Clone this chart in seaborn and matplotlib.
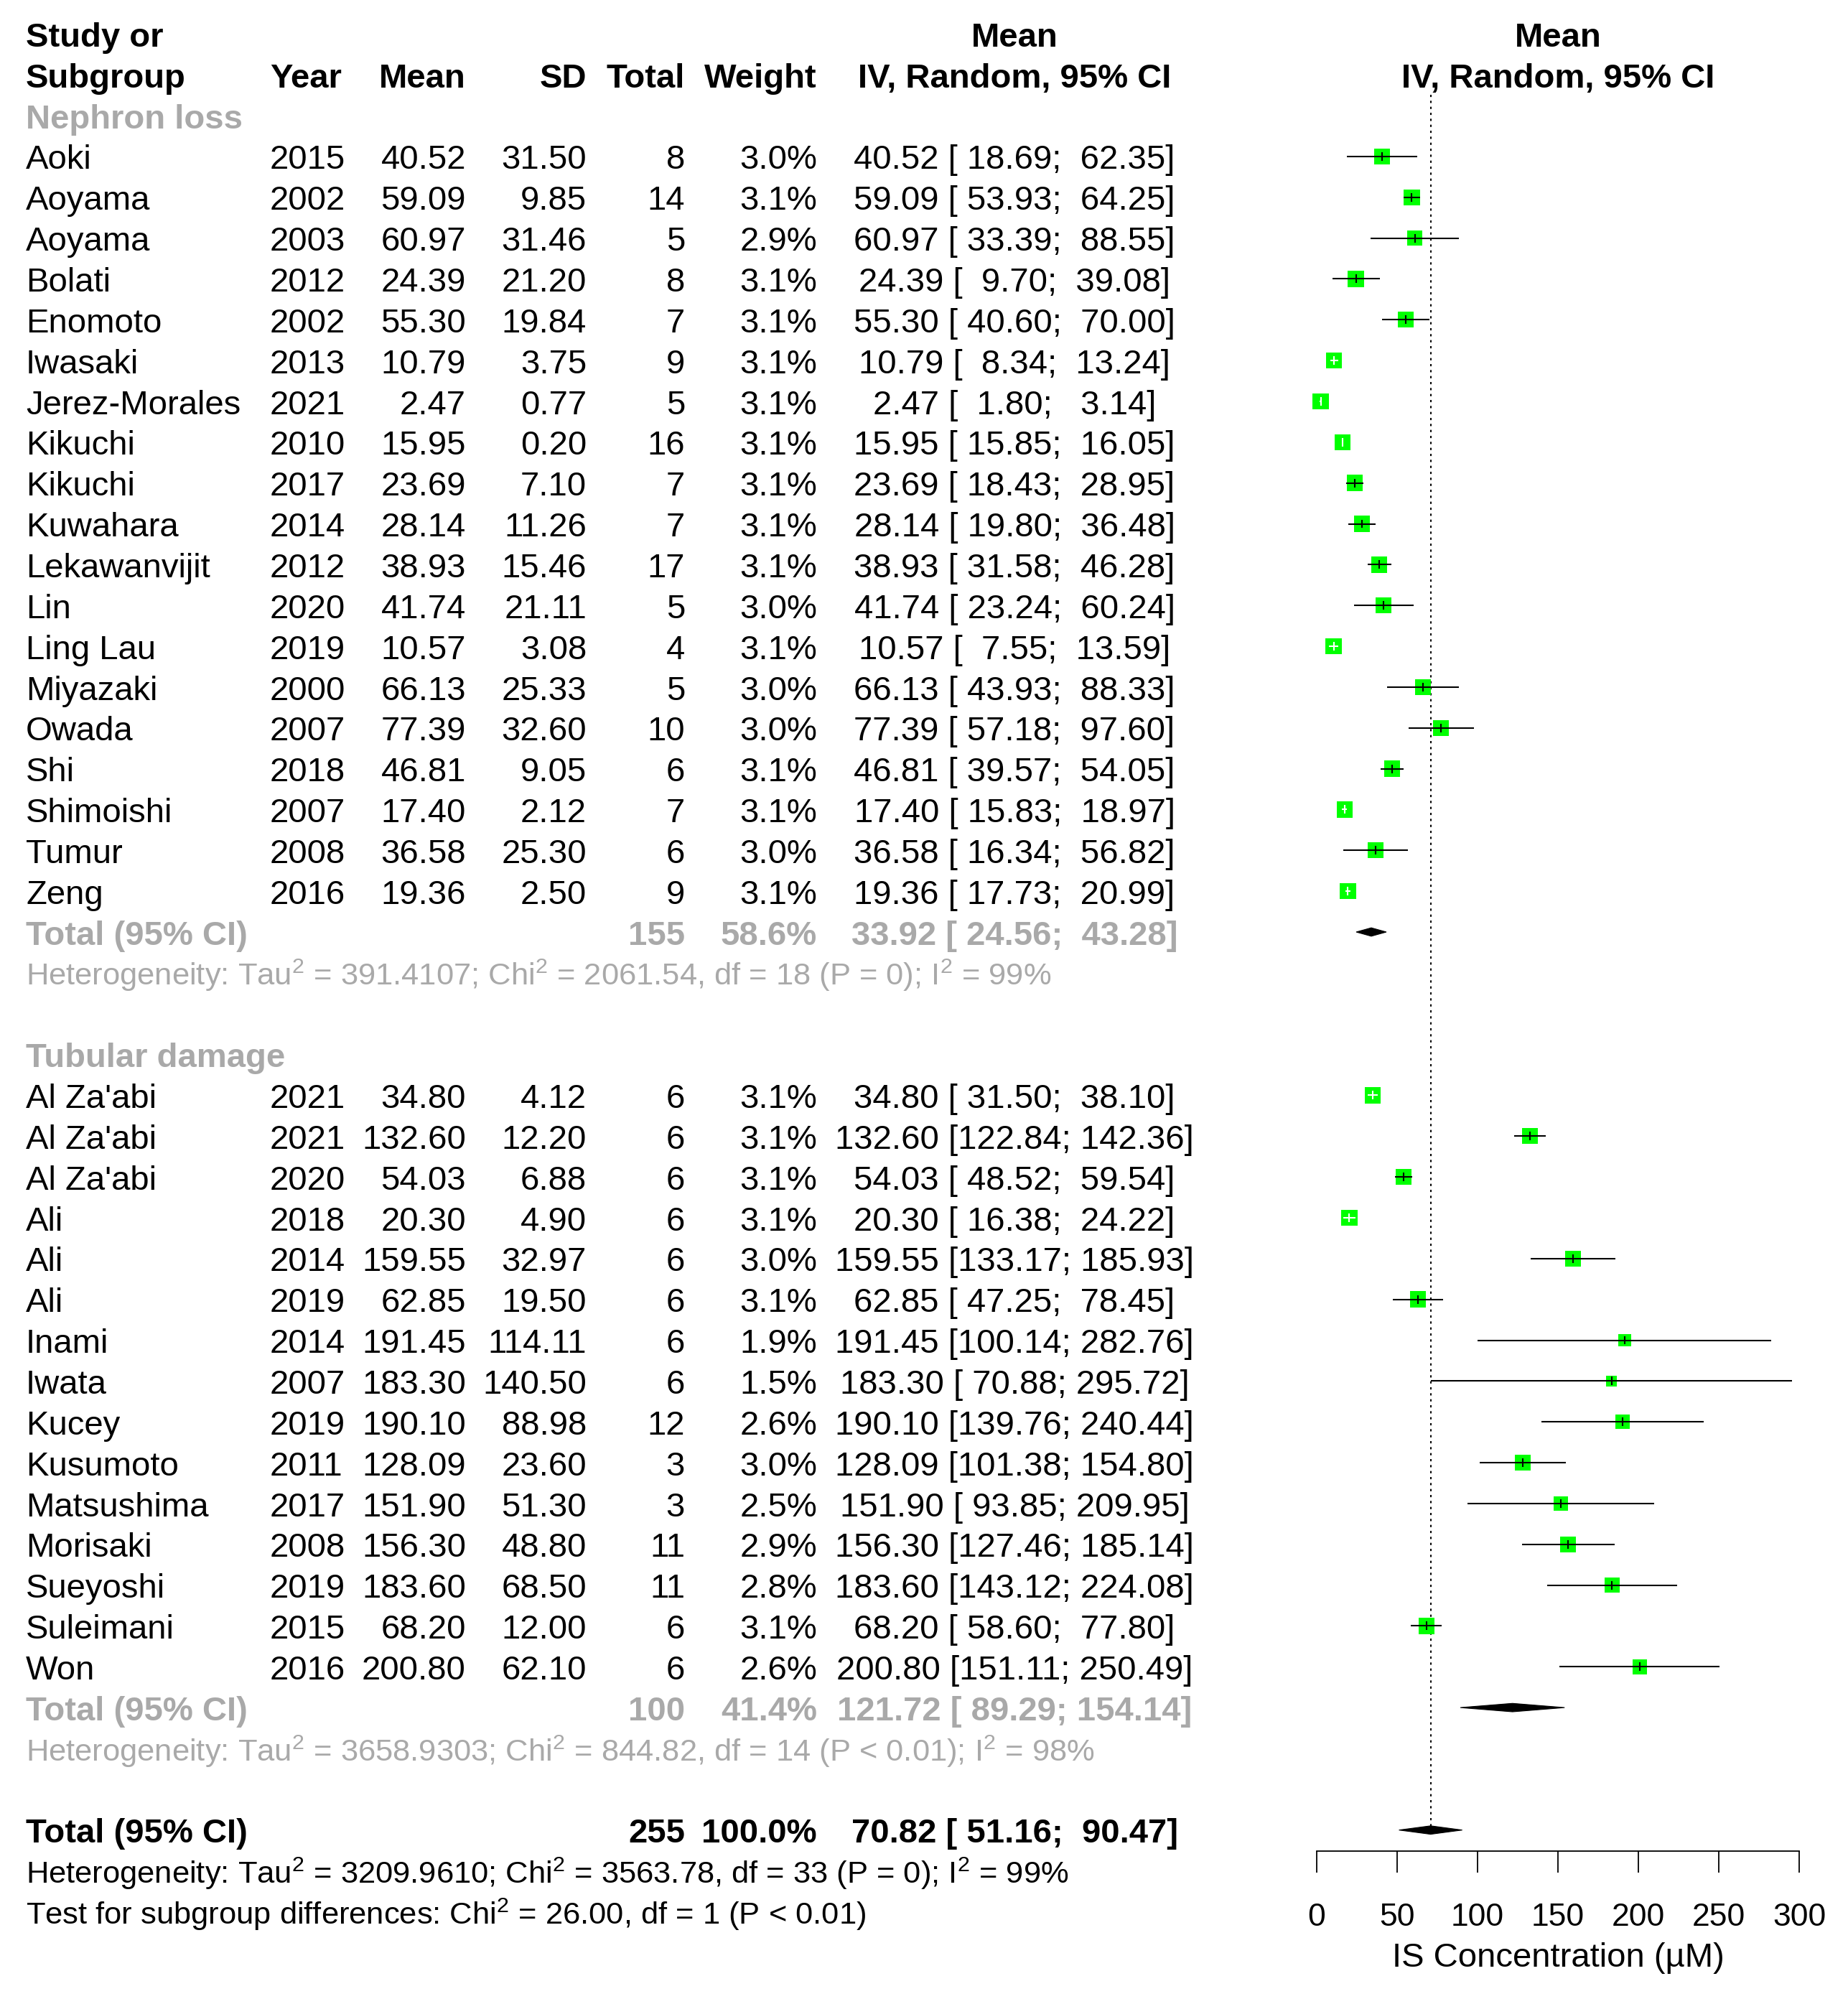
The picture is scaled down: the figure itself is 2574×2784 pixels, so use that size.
import numpy as np
import pandas as pd
import seaborn as sns
import matplotlib.pyplot as plt

# ---- data: Nephron loss subgroup ----
neph_study = ["Aoki", "Aoyama", "Aoyama", "Bolati", "Enomoto", "Iwasaki", "Jerez-Morales",
              "Kikuchi", "Kikuchi", "Kuwahara", "Lekawanvijit", "Lin", "Ling Lau", "Miyazaki",
              "Owada", "Shi", "Shimoishi", "Tumur", "Zeng"]
neph_year = [2015, 2002, 2003, 2012, 2002, 2013, 2021, 2010, 2017, 2014, 2012, 2020, 2019,
             2000, 2007, 2018, 2007, 2008, 2016]
neph_mean = [40.52, 59.09, 60.97, 24.39, 55.30, 10.79, 2.47, 15.95, 23.69, 28.14, 38.93,
             41.74, 10.57, 66.13, 77.39, 46.81, 17.40, 36.58, 19.36]
neph_sd = [31.50, 9.85, 31.46, 21.20, 19.84, 3.75, 0.77, 0.20, 7.10, 11.26, 15.46, 21.11,
           3.08, 25.33, 32.60, 9.05, 2.12, 25.30, 2.50]
neph_n = [8, 14, 5, 8, 7, 9, 5, 16, 7, 7, 17, 5, 4, 5, 10, 6, 7, 6, 9]
neph_weight = [3.0, 3.1, 2.9, 3.1, 3.1, 3.1, 3.1, 3.1, 3.1, 3.1, 3.1, 3.0, 3.1, 3.0, 3.0,
               3.1, 3.1, 3.0, 3.1]
neph_lo = [18.69, 53.93, 33.39, 9.70, 40.60, 8.34, 1.80, 15.85, 18.43, 19.80, 31.58, 23.24,
           7.55, 43.93, 57.18, 39.57, 15.83, 16.34, 17.73]
neph_hi = [62.35, 64.25, 88.55, 39.08, 70.00, 13.24, 3.14, 16.05, 28.95, 36.48, 46.28, 60.24,
           13.59, 88.33, 97.60, 54.05, 18.97, 56.82, 20.99]

# ---- data: Tubular damage subgroup ----
tub_study = ["Al Za'abi", "Al Za'abi", "Al Za'abi", "Ali", "Ali", "Ali", "Inami", "Iwata",
             "Kucey", "Kusumoto", "Matsushima", "Morisaki", "Sueyoshi", "Suleimani", "Won"]
tub_year = [2021, 2021, 2020, 2018, 2014, 2019, 2014, 2007, 2019, 2011, 2017, 2008, 2019,
            2015, 2016]
tub_mean = [34.80, 132.60, 54.03, 20.30, 159.55, 62.85, 191.45, 183.30, 190.10, 128.09,
            151.90, 156.30, 183.60, 68.20, 200.80]
tub_sd = [4.12, 12.20, 6.88, 4.90, 32.97, 19.50, 114.11, 140.50, 88.98, 23.60, 51.30, 48.80,
          68.50, 12.00, 62.10]
tub_n = [6, 6, 6, 6, 6, 6, 6, 6, 12, 3, 3, 11, 11, 6, 6]
tub_weight = [3.1, 3.1, 3.1, 3.1, 3.0, 3.1, 1.9, 1.5, 2.6, 3.0, 2.5, 2.9, 2.8, 3.1, 2.6]
tub_lo = [31.50, 122.84, 48.52, 16.38, 133.17, 47.25, 100.14, 70.88, 139.76, 101.38, 93.85,
          127.46, 143.12, 58.60, 151.11]
tub_hi = [38.10, 142.36, 59.54, 24.22, 185.93, 78.45, 282.76, 295.72, 240.44, 154.80, 209.95,
          185.14, 224.08, 77.80, 250.49]

# ---- pooled estimates ----
group_names = ["Nephron loss", "Tubular damage"]
group_total_n = [155, 100]
group_weight = [58.6, 41.4]
group_mean = [33.92, 121.72]
group_lo = [24.56, 89.29]
group_hi = [43.28, 154.14]
group_het = [
    r"Heterogeneity: Tau$^{\mathregular{2}}$ = 391.4107; Chi$^{\mathregular{2}}$ = 2061.54, df = 18 (P = 0); I$^{\mathregular{2}}$ = 99%",
    r"Heterogeneity: Tau$^{\mathregular{2}}$ = 3658.9303; Chi$^{\mathregular{2}}$ = 844.82, df = 14 (P < 0.01); I$^{\mathregular{2}}$ = 98%",
]
overall_n = 255
overall_weight = 100.0
overall_mean = 70.82
overall_lo = 51.16
overall_hi = 90.47
overall_het = r"Heterogeneity: Tau$^{\mathregular{2}}$ = 3209.9610; Chi$^{\mathregular{2}}$ = 3563.78, df = 33 (P = 0); I$^{\mathregular{2}}$ = 99%"
subgroup_test = r"Test for subgroup differences: Chi$^{\mathregular{2}}$ = 26.00, df = 1 (P < 0.01)"

xticks = [0, 50, 100, 150, 200, 250, 300]
xlabel = "IS Concentration (µM)"

# ---- style ----
sns.set_theme(style="white", rc={"text.color": "black", "axes.labelcolor": "black",
                                 "xtick.color": "black", "axes.edgecolor": "black"})
plt.rcParams['font.family'] = ['Liberation Sans', 'DejaVu Sans']
plt.rcParams['mathtext.fontset'] = 'custom'
plt.rcParams['mathtext.rm'] = 'Liberation Sans'

GRAY = "#A9A9A9"
GREEN = "#00FF00"
FS = 34        # main text
FS_HET = 31.3  # heterogeneity lines
W, H, DPI = 2574, 2784, 100
ROW0, ROWH = 47.3, 56.85   # pixel centre of row 0 and row pitch
BASE = 0.31                # baseline offset below row centre (rows)


def prow(px):
    return (px - ROW0) / ROWH


fig = plt.figure(figsize=(W / DPI, H / DPI), dpi=DPI)
tab = fig.add_axes([0, 0, 1, 1])
tab.set_xlim(0, W)
tab.set_ylim(prow(H), prow(0))
tab.axis('off')

AX_L, AX_R, AX_B = 1834, 2506, 2578
ax = fig.add_axes([AX_L / W, (H - AX_B) / H, (AX_R - AX_L) / W, AX_B / H])
ax.patch.set_alpha(0)


def put(x, k, s, ha='left', bold=False, color='black', size=FS, where=None):
    (where or tab).text(x, k + BASE, s, ha=ha, va='baseline', fontsize=size,
                        fontweight='bold' if bold else 'normal', color=color)


# column anchors (pixels)
C_STUDY, C_YEAR, C_MEAN, C_SD, C_TOT, C_W, C_CI = 36, 376, 649, 817, 954, 1138, 1413

# header
put(C_STUDY, 0, "Study or", bold=True)
put(C_STUDY, 1, "Subgroup", bold=True)
put(C_YEAR, 1, "Year", bold=True)
put(C_MEAN, 1, "Mean", ha='right', bold=True)
put(C_SD, 1, "SD", ha='right', bold=True)
put(C_TOT, 1, "Total", ha='right', bold=True)
put(C_W, 1, "Weight", ha='right', bold=True)
put(C_CI, 0, "Mean", ha='center', bold=True)
put(C_CI, 1, "IV, Random, 95% CI", ha='center', bold=True)
put(150, 0, "Mean", ha='center', bold=True, where=ax)
put(150, 1, "IV, Random, 95% CI", ha='center', bold=True, where=ax)


def ci_text(m, lo, hi):
    return f"{m:.2f} [{lo:6.2f}; {hi:6.2f}]"


groups = [
    (neph_study, neph_year, neph_mean, neph_sd, neph_n, neph_weight, neph_lo, neph_hi),
    (tub_study, tub_year, tub_mean, tub_sd, tub_n, tub_weight, tub_lo, tub_hi),
]
rows = []
k = 2
group_rows = []
for gi, (st, yr, mn, sd, nn, ww, lo, hi) in enumerate(groups):
    put(C_STUDY, k, group_names[gi], bold=True, color=GRAY)
    k += 1
    for i in range(len(st)):
        put(C_STUDY, k, st[i])
        put(C_YEAR, k, str(yr[i]))
        put(C_MEAN, k, f"{mn[i]:.2f}", ha='right')
        put(C_SD, k, f"{sd[i]:.2f}", ha='right')
        put(C_TOT, k, str(nn[i]), ha='right')
        put(C_W, k, f"{ww[i]:.1f}%", ha='right')
        put(C_CI, k, ci_text(mn[i], lo[i], hi[i]), ha='center')
        rows.append(dict(mean=mn[i], lo=lo[i], hi=hi[i], weight=ww[i], row=k))
        k += 1
    put(C_STUDY, k, "Total (95% CI)", bold=True, color=GRAY)
    put(C_TOT, k, str(group_total_n[gi]), ha='right', bold=True, color=GRAY)
    put(C_W, k, f"{group_weight[gi]:.1f}%", ha='right', bold=True, color=GRAY)
    put(C_CI, k, ci_text(group_mean[gi], group_lo[gi], group_hi[gi]), ha='center',
        bold=True, color=GRAY)
    group_rows.append(k)
    k += 1
    put(C_STUDY, k, group_het[gi], color=GRAY, size=FS_HET)
    k += 2

k_all = k
put(C_STUDY, k_all, "Total (95% CI)", bold=True)
put(C_TOT, k_all, str(overall_n), ha='right', bold=True)
put(C_W, k_all, f"{overall_weight:.1f}%", ha='right', bold=True)
put(C_CI, k_all, ci_text(overall_mean, overall_lo, overall_hi), ha='center', bold=True)
put(C_STUDY, k_all + 1, overall_het, size=FS_HET)
put(C_STUDY, k_all + 2, subgroup_test, size=FS_HET)

df = pd.DataFrame(rows)
px_per_pt = DPI / 72
df["area"] = 83.6 * df["weight"]          # marker area (pt^2), proportional to weight
side_px = np.sqrt(df["area"]) * px_per_pt
px_per_unit = (AX_R - AX_L) / 300
inside = ((df["mean"] - df["lo"]) * px_per_unit <= side_px / 2) & \
         ((df["hi"] - df["mean"]) * px_per_unit <= side_px / 2)
line_col = np.where(inside, "white", "black")

amin, amax = df["area"].min(), df["area"].max()
sns.scatterplot(data=df, x="mean", y="row", size="area", sizes=(amin, amax),
                size_norm=(amin, amax), marker="s", color=GREEN, linewidth=0,
                legend=False, ax=ax, zorder=2, clip_on=False)

ax.hlines(df["row"], df["lo"], df["hi"], colors=line_col, lw=1.5, zorder=3, clip_on=False)
ax.vlines(df["mean"], df["row"] - 0.105, df["row"] + 0.105, colors=line_col, lw=1.5,
          zorder=3, clip_on=False)

# diamonds
dh = 0.103
for r, m, lo, hi in zip(group_rows + [k_all], group_mean + [overall_mean],
                        group_lo + [overall_lo], group_hi + [overall_hi]):
    ax.fill([lo, m, hi, m], [r, r - dh, r, r + dh], color="black", lw=0.8, zorder=3,
            clip_on=False)

# line of overall effect
ax.vlines(overall_mean, prow(132), k_all - dh, colors="black", lw=1.5,
          linestyles=(0, (1.5, 2.5)), zorder=1)

ax.set_xlim(0, 300)
ax.set_ylim(prow(AX_B), prow(0))
ax.set_yticks([])
ax.set_xticks(xticks)
ax.set_xticklabels([str(t) for t in xticks])
for s in ["left", "top", "right"]:
    ax.spines[s].set_visible(False)
ax.spines["bottom"].set_linewidth(1.3)
ax.tick_params(axis='x', bottom=True, direction='out', length=21.6, width=1.3, pad=30,
               labelsize=32)
ax.set_xlabel(xlabel, fontsize=FS, labelpad=10)
ax.set_ylabel("")

fig.savefig("out.png", dpi=DPI)
